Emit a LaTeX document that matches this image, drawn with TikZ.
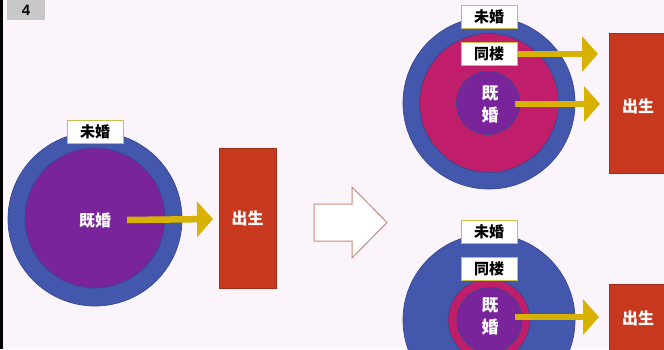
\documentclass[tikz,border=0pt]{standalone}
\usepackage{fontspec}
\newfontfamily\cjk{Noto Sans CJK SC}
\newfontfamily\lsans{Liberation Sans}
\usetikzlibrary{arrows.meta}
\definecolor{bgc}{HTML}{FBF4FB}
\definecolor{ringblue}{HTML}{4358AC}
\definecolor{ringedge}{HTML}{354890}
\definecolor{purp}{HTML}{7A249C}
\definecolor{crim}{HTML}{C01E6B}
\definecolor{redb}{HTML}{C8381E}
\definecolor{gold}{HTML}{D8B200}
\definecolor{labedge}{HTML}{C9BE4A}
\definecolor{hollowedge}{HTML}{C68C7C}
\definecolor{greybox}{HTML}{C8C8C8}
\begin{document}
\begin{tikzpicture}[x=1pt,y=-1pt,
  ring/.style={circle,inner sep=0pt,minimum size=#1,draw=ringedge,line width=0.7pt},
  lab/.style={draw=labedge,line width=1pt,fill=white,minimum width=56pt,minimum height=23pt,inner sep=0pt,font=\cjk\bfseries\fontsize{15}{15}\selectfont,text=black},
  wtext/.style={text=white,inner sep=1pt,font=\cjk\bfseries\fontsize{16}{16}\selectfont},
  stack/.style={text=white,inner sep=1pt,align=center,font=\cjk\bfseries\fontsize{17}{22}\selectfont},
  redbox/.style={fill=redb,draw=redb!80!black,line width=0.5pt},
  goldarr/.style={draw=gold,line width=6.5pt,-{Triangle[length=16pt,width=35pt]}},
  hollow/.style={draw=hollowedge,fill=white,line width=1pt,line join=miter}]
\fill[bgc] (0,0) rectangle (664,349);
\useasboundingbox (0,0) rectangle (664,349);
\fill[black] (0,0) rectangle (2.5,349);
\node[fill=greybox,minimum width=38pt,minimum height=20pt,inner sep=0pt,font=\lsans\bfseries\fontsize{15}{15}\selectfont] (num) at (26,10) {4};

% left figure
\node[ring=174pt,fill=ringblue] (o1) at (95,219) {};
\node[ring=140pt,fill=purp] (i1) at (95,218) {};
\node[lab] (u1) at (95,131.5) {未婚};
\node[wtext] (k1) at (95,220) {既婚};
\draw[redbox] (219,148) rectangle (276,288);
\coordinate (b1w) at (219,219);
\node[wtext] (b1) at (247.5,218) {出生};
\draw[goldarr] ([xshift=15pt]k1.east) -- ([xshift=-6pt]b1w);

% big hollow arrow
\draw[hollow] (314,204) -- (352,204) -- (352,187) -- (387,222.5) -- (352,258) -- (352,241) -- (314,241) -- cycle;

% top-right figure
\node[ring=172pt,fill=ringblue] (o2) at (489,103) {};
\node[ring=139pt,fill=crim] (c2) at (489,103) {};
\node[ring=63pt,fill=purp] (i2) at (488,103) {};
\node[lab] (u2) at (489,16.5) {未婚};
\node[lab] (t2) at (489,54) {同楼};
\node[stack] (k2) at (490,104) {既\\婚};
\draw[redbox] (609,33) rectangle (667,173);
\node[wtext] (b2) at (638,106) {出生};
\coordinate (b2a) at (609,54);
\coordinate (b2b) at (609,104);
\draw[goldarr] (t2.east) -- ([xshift=-11pt]b2a);
\draw[goldarr] ([xshift=15pt]k2.east |- b2b) -- ([xshift=-9pt]b2b);

% bottom-right figure
\node[ring=172pt,fill=ringblue] (o3) at (489,320) {};
\node[ring=82pt,fill=crim] (c3) at (489,320) {};
\node[ring=65pt,fill=purp] (i3) at (489.5,320) {};
\node[lab] (u3) at (489,231.5) {未婚};
\node[lab] (t3) at (489,269) {同楼};
\node[stack] (k3) at (490,316) {既\\婚};
\draw[redbox] (609,284) rectangle (667,352);
\node[wtext] (b3) at (638,318) {出生};
\coordinate (b3w) at (609,317);
\draw[goldarr] ([xshift=15pt]k3.east |- b3w) -- ([xshift=-10pt]b3w);
\end{tikzpicture}
\end{document}
